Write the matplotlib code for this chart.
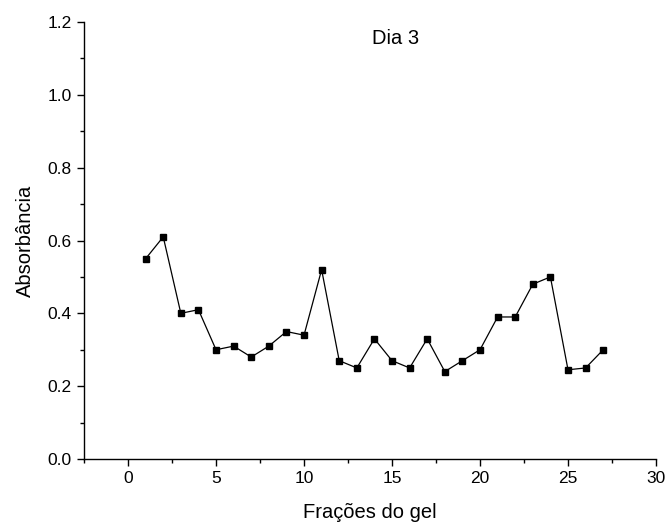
# ==========================================================
# DIA 3 - ABSORBANCIA POR FRACAO DO GEL
# ==========================================================

import matplotlib
matplotlib.use("Agg")
import matplotlib.pyplot as plt
from matplotlib.ticker import MultipleLocator

# ==========================================================
# DATA
# ==========================================================

fracoes = [1, 2, 3, 4, 5, 6, 7, 8, 9, 10, 11, 12, 13, 14,
           15, 16, 17, 18, 19, 20, 21, 22, 23, 24, 25, 26, 27]

absorbancia = [0.55, 0.61, 0.40, 0.41, 0.30, 0.31, 0.28, 0.31, 0.35,
               0.34, 0.52, 0.27, 0.25, 0.33, 0.27, 0.25, 0.33, 0.24,
               0.27, 0.30, 0.39, 0.39, 0.48, 0.50, 0.245, 0.25, 0.30]

titulo = "Dia 3"

# ==========================================================
# PLOT
# ==========================================================

plt.rcParams["font.family"] = ["Liberation Sans", "DejaVu Sans"]

fig = plt.figure(figsize=(6.67, 5.28), dpi=100)
ax = fig.add_axes([0.126, 0.1307, 0.8575, 0.8276])

ax.plot(
    fracoes,
    absorbancia,
    color="black",
    linewidth=0.9,
    marker="s",
    markersize=5,
    markerfacecolor="black",
    markeredgecolor="black"
)

ax.set_xlim(-2.5, 30)
ax.set_ylim(0.0, 1.2)

ax.xaxis.set_major_locator(MultipleLocator(5))
ax.xaxis.set_minor_locator(MultipleLocator(2.5))
ax.yaxis.set_major_locator(MultipleLocator(0.2))
ax.yaxis.set_minor_locator(MultipleLocator(0.1))
ax.yaxis.set_major_formatter(plt.FuncFormatter(lambda v, p: f"{v:.1f}"))

ax.spines["top"].set_visible(False)
ax.spines["right"].set_visible(False)
ax.spines["left"].set_linewidth(1.0)
ax.spines["bottom"].set_linewidth(1.0)

ax.tick_params(which="major", direction="out", length=5, width=1.0,
               labelsize=12.5, pad=4)
ax.tick_params(which="minor", direction="out", length=3, width=1.0)

ax.set_xlabel("Frações do gel", fontsize=14.5, labelpad=12)
ax.set_ylabel("Absorbância", fontsize=14.5, labelpad=9)

ax.text(15.2, 1.155, titulo, ha="center", va="center", fontsize=14.5)

fig.savefig("out.png", dpi=100)
plt.close(fig)
